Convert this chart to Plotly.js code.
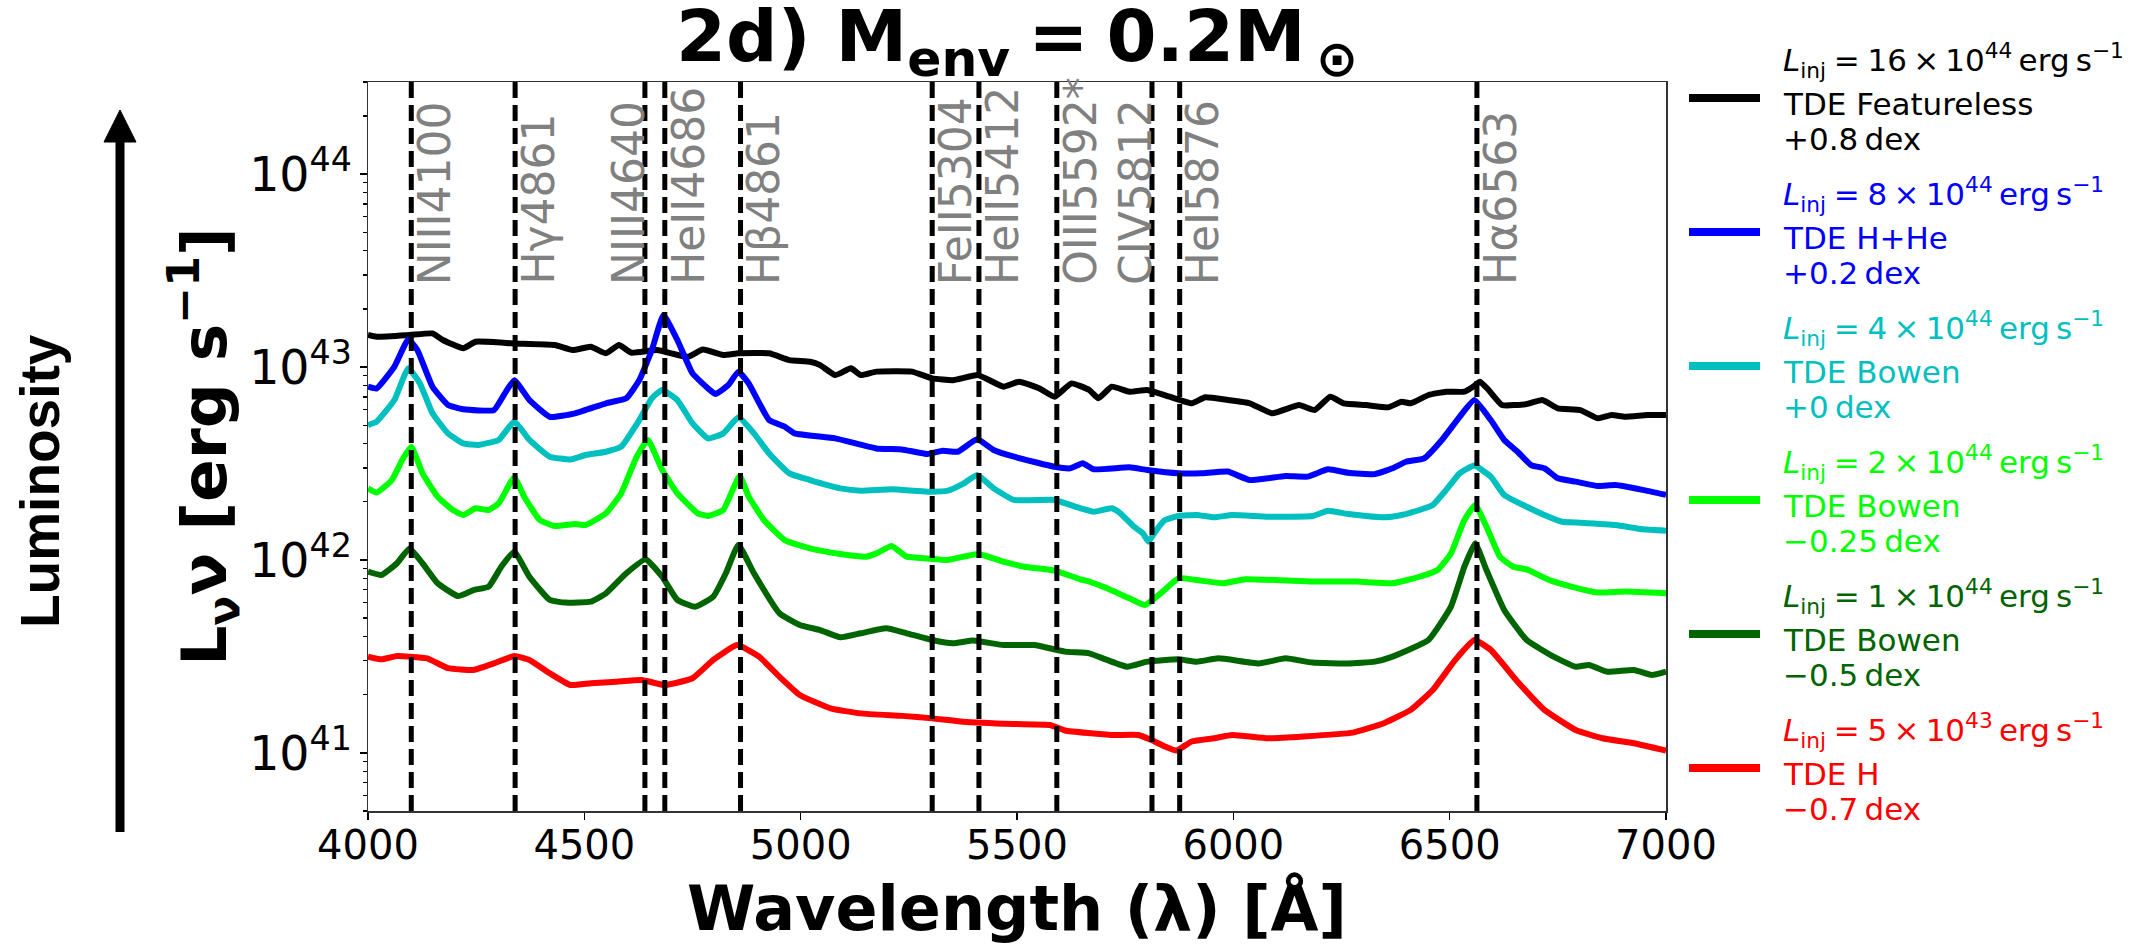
<!DOCTYPE html>
<html>
<head>
<meta charset="utf-8">
<script src="https://cdn.plot.ly/plotly-3.0.1.min.js"></script>
<style>html,body{margin:0;padding:0;background:#fff;}#chart{width:2139px;height:945px;}</style>
</head>
<body>
<div id="chart"></div>
<script>
// ---------------- DATA ----------------
// wavelengths in Angstrom, luminosity given as log10(L_nu nu / erg s^-1)
const wlBlack = [4000,4020,4096,4149,4173,4220,4249,4338,4432,4473,4515,4550,4580,4609,4668,4739,4774,4821,4856,4927,4974,5022,5045,5080,5116,5139,5175,5257,5304,5352,5410,5469,5505,5552,5587,5626,5667,5688,5719,5760,5801,5853,5904,5935,5987,6038,6090,6152,6188,6224,6255,6307,6358,6389,6410,6451,6492,6534,6554,6570,6590,6621,6678,6714,6750,6802,6843,6874,6905,6957,7000];
const logBlack = [43.166,43.157,43.166,43.174,43.140,43.097,43.131,43.122,43.114,43.088,43.105,43.071,43.114,43.074,43.088,43.053,43.091,43.062,43.071,43.071,43.036,43.027,43.010,42.958,42.993,42.958,42.976,42.976,42.941,42.932,42.958,42.898,42.924,42.889,42.846,42.915,42.881,42.838,42.898,42.872,42.881,42.846,42.812,42.843,42.829,42.812,42.760,42.803,42.777,42.846,42.812,42.803,42.791,42.820,42.812,42.855,42.872,42.872,42.898,42.924,42.881,42.803,42.808,42.829,42.786,42.777,42.734,42.751,42.742,42.751,42.751];

const wlBlue = [4000,4020,4061,4093,4114,4149,4185,4220,4291,4314,4338,4373,4420,4479,4550,4597,4627,4656,4683,4715,4750,4786,4803,4833,4856,4880,4927,4963,4986,5080,5175,5234,5293,5328,5363,5408,5446,5493,5587,5623,5652,5677,5760,5801,5873,5925,5987,6038,6121,6172,6219,6265,6327,6368,6399,6441,6482,6523,6557,6595,6626,6657,6688,6719,6750,6791,6843,6884,6946,7000];
const logBlue = [42.898,42.889,43.002,43.143,43.088,42.898,42.803,42.781,42.777,42.855,42.932,42.829,42.742,42.760,42.812,42.838,42.932,43.088,43.269,43.140,42.967,42.889,42.860,42.907,42.976,42.915,42.725,42.691,42.656,42.630,42.578,42.573,42.549,42.566,42.561,42.625,42.570,42.535,42.483,42.475,42.501,42.470,42.480,42.466,42.449,42.449,42.458,42.414,42.435,42.432,42.470,42.452,42.445,42.475,42.509,42.527,42.622,42.742,42.829,42.725,42.622,42.561,42.492,42.475,42.423,42.406,42.383,42.388,42.363,42.337];

const wlCyan = [4000,4020,4061,4093,4120,4149,4185,4220,4255,4302,4338,4373,4420,4468,4503,4550,4585,4627,4656,4680,4715,4750,4786,4821,4856,4892,4927,4974,5022,5092,5139,5210,5293,5340,5375,5408,5446,5493,5587,5623,5646,5677,5719,5739,5770,5791,5804,5822,5842,5873,5915,5956,5997,6080,6183,6219,6265,6348,6389,6430,6461,6492,6523,6557,6595,6626,6678,6719,6760,6802,6884,6946,7000];
const logCyan = [42.699,42.717,42.829,42.993,42.915,42.760,42.656,42.604,42.596,42.622,42.717,42.622,42.535,42.521,42.544,42.561,42.587,42.725,42.838,42.881,42.829,42.708,42.630,42.656,42.739,42.656,42.552,42.449,42.414,42.371,42.359,42.366,42.354,42.359,42.394,42.440,42.371,42.311,42.311,42.285,42.268,42.250,42.268,42.242,42.173,42.138,42.095,42.155,42.207,42.228,42.233,42.221,42.233,42.224,42.228,42.255,42.238,42.221,42.233,42.259,42.285,42.363,42.449,42.489,42.432,42.337,42.276,42.233,42.198,42.193,42.181,42.159,42.152];

const wlLime = [4000,4020,4055,4079,4100,4126,4161,4196,4220,4249,4279,4302,4338,4361,4397,4432,4479,4503,4550,4585,4621,4647,4680,4715,4762,4786,4821,4859,4880,4915,4963,5022,5092,5151,5175,5210,5245,5293,5340,5410,5469,5517,5587,5646,5667,5708,5760,5796,5832,5873,5915,5976,6028,6183,6286,6368,6430,6472,6503,6534,6559,6585,6616,6647,6678,6730,6781,6843,6905,7000];
const logLime = [42.371,42.349,42.414,42.518,42.587,42.449,42.328,42.259,42.233,42.268,42.259,42.293,42.428,42.328,42.207,42.176,42.186,42.181,42.242,42.345,42.535,42.622,42.466,42.345,42.242,42.228,42.259,42.435,42.328,42.207,42.103,42.060,42.031,42.017,42.034,42.072,42.017,42.008,42.000,42.031,41.991,41.965,41.945,41.900,41.888,41.853,41.801,41.767,41.827,41.905,41.896,41.879,41.900,41.888,41.888,41.879,41.913,41.948,42.034,42.207,42.285,42.173,42.017,41.965,41.951,41.896,41.862,41.831,41.836,41.827];

const wlDarkGreen = [4000,4031,4067,4096,4126,4161,4208,4244,4279,4308,4338,4373,4420,4456,4515,4550,4597,4642,4680,4715,4756,4798,4827,4856,4892,4951,4998,5045,5092,5139,5198,5245,5304,5352,5399,5469,5540,5611,5667,5708,5755,5801,5873,5915,5966,6059,6121,6183,6265,6327,6368,6451,6503,6534,6559,6585,6626,6678,6740,6791,6822,6864,6926,6967,7000];
const logDarkGreen = [41.939,41.922,41.983,42.060,41.983,41.879,41.813,41.844,41.862,41.965,42.043,41.913,41.793,41.779,41.784,41.827,41.931,42.003,41.913,41.793,41.758,41.810,41.931,42.078,41.931,41.724,41.663,41.637,41.599,41.620,41.646,41.620,41.585,41.568,41.582,41.559,41.559,41.525,41.516,41.482,41.447,41.473,41.485,41.473,41.490,41.464,41.490,41.468,41.464,41.473,41.499,41.585,41.758,41.965,42.086,41.948,41.741,41.585,41.499,41.447,41.456,41.421,41.430,41.404,41.421];

const wlRed = [4000,4031,4067,4096,4137,4185,4244,4291,4338,4373,4420,4468,4515,4574,4633,4686,4750,4798,4853,4904,4951,4998,5069,5139,5234,5304,5375,5493,5576,5611,5719,5780,5811,5842,5868,5904,5956,5997,6080,6162,6276,6348,6410,6461,6513,6557,6595,6657,6719,6791,6853,6926,7000];
const logRed = [41.499,41.485,41.502,41.499,41.490,41.439,41.430,41.464,41.502,41.482,41.413,41.352,41.361,41.369,41.378,41.352,41.387,41.482,41.559,41.499,41.395,41.300,41.231,41.205,41.192,41.179,41.162,41.150,41.145,41.116,41.093,41.093,41.067,41.033,41.012,41.059,41.076,41.093,41.076,41.085,41.105,41.154,41.223,41.326,41.482,41.585,41.534,41.369,41.223,41.119,41.076,41.050,41.012];

// legend / series descriptors
const injMantissa = ['16','8','4','2','1','5'];
const injExponent = ['44','44','44','44','44','43'];
const modelNames = ['TDE Featureless','TDE H+He','TDE Bowen','TDE Bowen','TDE Bowen','TDE H'];
const dexOffsets = ['+0.8','+0.2','+0','\u22120.25','\u22120.5','\u22120.7'];

// emission line markers
const lineWaves  = [4100, 4340, 4640, 4686, 4861, 5304, 5412, 5592, 5812, 5876, 6563];
const lineLabels = ['NIII4100','H\u03b34861','NIII4640','HeII4686','H\u03b24861','FeII5304','HeII5412','OIII5592*','CIV5812','HeI5876','H\u03b16563'];

// axis ticks
const xTicks = [4000, 4500, 5000, 5500, 6000, 6500, 7000];

// ---------------- STYLE / LAYOUT ----------------
const colors = ['#000000', '#0000ff', '#00bfbf', '#00ff00', '#006400', '#ff0000'];
const labelSide = ['r','r','l','r','r','r','r','r','l','r','r'];
const FONT = 'DejaVu Sans, Verdana, sans-serif';

const PL = 368, PR = 1666, PT = 82, PB = 811;
const px = x => (x - PL) / (PR - PL);
const py = y => (PB - y) / (PB - PT);

const series = [
  [wlBlack, logBlack], [wlBlue, logBlue], [wlCyan, logCyan],
  [wlLime, logLime], [wlDarkGreen, logDarkGreen], [wlRed, logRed]
];

const legendLine1 = injMantissa.map((m, i) =>
  '<i>L</i><sub>inj</sub>\u2005=\u2005' + m + '\u2009\u00d7\u200910<sup>' + injExponent[i] + '</sup>\u2009erg\u2009s<sup>\u22121</sup>');
const legendLine3 = dexOffsets.map(d => d + '\u2009dex');

const traces = series.map((s, i) => ({
  type: 'scatter', mode: 'lines',
  x: s[0], y: s[1].map(v => Math.pow(10, v)),
  name: modelNames[i] + ' ' + dexOffsets[i] + ' dex',
  line: { color: colors[i], width: 6, shape: 'spline', smoothing: 0.4 },
  showlegend: false, hoverinfo: 'skip'
}));

const shapes = [];
const annotations = [];

// dashed emission-line markers
lineWaves.forEach((w, i) => {
  shapes.push({ type: 'line', xref: 'x', yref: 'paper', x0: w, x1: w, y0: 0, y1: 1,
    line: { color: '#000', width: 5, dash: '16px,7px' }, layer: 'above' });
  annotations.push({ xref: 'x', yref: 'paper', x: w, y: py(287), text: lineLabels[i],
    textangle: -90, showarrow: false, xanchor: 'center', yanchor: 'bottom',
    xshift: labelSide[i] === 'r' ? 23 : -17,
    font: { family: FONT, size: 44, color: '#808080' } });
});

// legend (manual, matching matplotlib layout)
const legY = [98, 232, 366, 500, 634, 768];
legY.forEach((s, i) => {
  shapes.push({ type: 'line', xref: 'paper', yref: 'paper', x0: px(1689), x1: px(1760), y0: py(s), y1: py(s),
    line: { color: colors[i], width: 8 } });
  const lines = [[legendLine1[i], s - 38], [modelNames[i], s + 6], [legendLine3[i], s + 41]];
  lines.forEach(([t, yy]) => {
    annotations.push({ xref: 'paper', yref: 'paper', x: px(1781), y: py(yy), text: t,
      showarrow: false, xanchor: 'left', yanchor: 'middle',
      font: { family: FONT, size: 31, color: colors[i] } });
  });
});

// "Luminosity" arrow decoration
shapes.push({ type: 'line', xref: 'paper', yref: 'paper', x0: px(120), x1: px(120), y0: py(832), y1: py(138),
  line: { color: '#000', width: 9 } });
shapes.push({ type: 'path', xref: 'paper', yref: 'paper',
  path: 'M ' + px(104) + ',' + py(142) + ' L ' + px(136) + ',' + py(142) + ' L ' + px(120) + ',' + py(110) + ' Z',
  fillcolor: '#000', line: { color: '#000', width: 1 } });
annotations.push({ xref: 'paper', yref: 'paper', x: px(40), y: py(481), text: '<b>Luminosity</b>',
  textangle: -90, showarrow: false, xanchor: 'center', yanchor: 'middle',
  font: { family: 'Liberation Sans, Arial, sans-serif', size: 55, color: '#000' } });

const layout = {
  width: 2139, height: 945,
  margin: { l: PL, r: 2139 - PR, t: PT, b: 945 - PB, pad: 0 },
  paper_bgcolor: '#fff', plot_bgcolor: '#fff',
  showlegend: false,
  font: { family: FONT, color: '#000' },
  title: {
    text: '<b>2d) M<sub>env</sub>\u2005=\u20050.2M<sub>\u2009\u2299</sub></b>',
    font: { family: FONT, size: 72, color: '#000' },
    xref: 'paper', x: 0.5, xanchor: 'center',
    yref: 'container', y: 1 - 36 / 945, yanchor: 'middle'
  },
  xaxis: {
    range: [4000, 7000], tickvals: xTicks, ticktext: xTicks.map(String),
    ticks: 'outside', ticklen: 7, tickwidth: 1.5, tickcolor: '#000',
    ticklabelstandoff: -9,
    tickfont: { family: FONT, size: 40, color: '#000' },
    showline: true, mirror: true, linecolor: '#333', linewidth: 1.5,
    showgrid: false, zeroline: false, automargin: false,
    title: { text: '<b>Wavelength (\u03bb) [\u00c5]</b>', font: { family: FONT, size: 62, color: '#000' }, standoff: 26 }
  },
  yaxis: {
    type: 'log', range: [Math.log10(5e40), Math.log10(3e44)], dtick: 1,
    exponentformat: 'power', showexponent: 'all',
    ticks: 'outside', ticklen: 7, tickwidth: 1.5, tickcolor: '#000',
    minor: { ticks: 'outside', ticklen: 4, tickwidth: 1.2, tickcolor: '#000', dtick: 'D1', showgrid: false },
    tickfont: { family: FONT, size: 38, color: '#000' },
    showline: true, mirror: true, linecolor: '#333', linewidth: 1.5,
    showgrid: false, zeroline: false, automargin: false,
    title: { text: '<b>L<sub>\u03bd</sub>\u03bd [erg s<sup>\u22121</sup>]</b>', font: { family: FONT, size: 63, color: '#000' }, standoff: 0 }
  },
  shapes: shapes,
  annotations: annotations
};

Plotly.newPlot('chart', traces, layout, { staticPlot: true, displayModeBar: false });
</script>
</body>
</html>
